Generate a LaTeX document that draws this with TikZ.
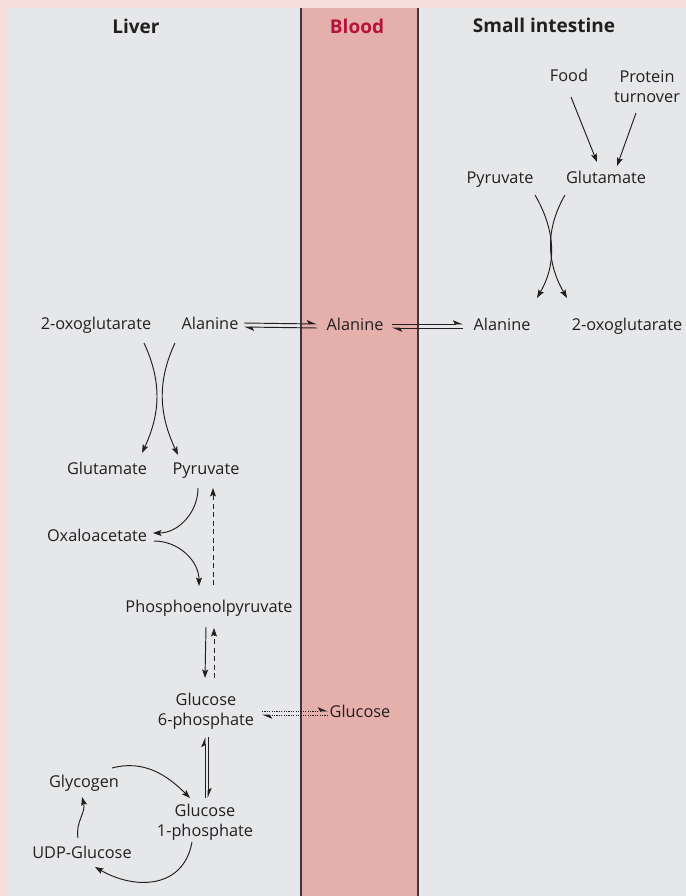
\documentclass[tikz,border=0pt]{standalone}
\usepackage{fontspec}
\setmainfont{Open Sans}
\usetikzlibrary{arrows.meta,calc}
\definecolor{mtMargin}{RGB}{246,221,217}
\definecolor{mtPanel}{RGB}{230,231,233}
\definecolor{mtBlood}{RGB}{229,175,172}
\definecolor{mtEdge}{RGB}{60,55,56}
\definecolor{mtRed}{RGB}{181,18,60}
\definecolor{mtInk}{RGB}{35,31,32}

\begin{document}
\begin{tikzpicture}[
    x=1bp, y=-1bp,
    >={Stealth[length=8.5bp,width=6bp,inset=1.8bp]},
    met node/.style={font=\fontsize{16.3bp}{20bp}\selectfont, text=mtInk, inner sep=0pt, text height=11.5bp, text depth=3.5bp},
    met pair/.style={font=\fontsize{16.3bp}{20bp}\selectfont, text=mtInk, inner sep=0pt, align=center},
    head node/.style={font=\fontsize{19bp}{22bp}\selectfont\bfseries, text=mtInk, inner sep=0pt},
    flux arrow/.style={draw=mtInk, line width=0.95bp, ->},
    harpoon/.style={draw=mtInk, line width=0.95bp, -{Stealth[left,length=9bp,width=7.5bp,inset=2bp]}},
    dash line/.style={dash pattern=on 5bp off 3.5bp},
    dot line/.style={dash pattern=on 1.2bp off 1.2bp}
]
  \useasboundingbox (0,0) rectangle (686,896);
  % panels
  \fill[mtMargin] (0,0) rectangle (686,896);
  \fill[mtPanel] (8,8) rectangle (686,896);
  \fill[mtBlood] (301,8) rectangle (418,896);
  \draw[mtEdge, line width=1.3bp] (301,8) -- (301,896) (418,8) -- (418,896);

  \node[head node] (liver) at (136,26) {Liver};
  \node[head node, text=mtRed] (blood) at (357,26) {Blood};
  \node[head node] (intestine) at (544,25) {Small intestine};

  % small intestine
  \node[met node] (food) at (569,77) {Food};
  \node[met pair] (prot) at (647,87) {Protein\\turnover};
  \node[met node] (pyrSI) at (500,179) {Pyruvate};
  \node[met node] (gluSI) at (606,179) {Glutamate};
  \node[met node] (alaSI) at (502,326) {Alanine};
  \node[met node] (oxoSI) at (627,326) {2-oxoglutarate};

  % blood
  \node[met node] (alaB) at (355,326) {Alanine};
  \node[met node] (glcB) at (360,713) {Glucose};

  % liver
  \node[met node] (oxoL) at (96,325) {2-oxoglutarate};
  \node[met node] (alaL) at (210,325) {Alanine};
  \node[met node] (gluL) at (107,470) {Glutamate};
  \node[met node] (pyrL) at (206,470) {Pyruvate};
  \node[met node] (oaa) at (97,537) {Oxaloacetate};
  \node[met node] (pep) at (209,608) {Phosphoenolpyruvate};
  \node[met pair] (g6p) at (206,711) {Glucose\\6-phosphate};
  \node[met node] (glycogen) at (84,783) {Glycogen};
  \node[met pair] (g1p) at (205,822) {Glucose\\1-phosphate};
  \node[met node] (udp) at (82,854) {UDP-Glucose};

  \draw[flux arrow] ($(food)+(2,20)$) -- ($(gluSI)+(-9,-17)$);
  \draw[flux arrow] ($(prot)+(-11,26)$) -- ($(gluSI)+(11,-13)$);
  \draw[flux arrow] ($(pyrSI)+(35,16)$) to[out=-60,in=60] ($(alaSI)+(35,-28)$);
  \draw[flux arrow] ($(gluSI)+(-41,16)$) to[out=-120,in=120] ($(oxoSI)+(-60,-28)$);

  \draw[harpoon] ($(alaL)+(34,-2)$) -- ($(alaB)+(-38,-2)$);
  \draw[harpoon] ($(alaB)+(-38,2)$) -- ($(alaL)+(34,2)$);
  \draw[harpoon] ($(alaB)+(37,-2)$) -- ($(alaSI)+(-39,-2)$);
  \draw[harpoon] ($(alaSI)+(-39,2)$) -- ($(alaB)+(37,2)$);

  \draw[flux arrow] ($(oxoL)+(48,18)$) to[out=-65,in=65] ($(gluL)+(35,-17)$);
  \draw[flux arrow] ($(alaL)+(-35,18)$) to[out=-115,in=115] ($(pyrL)+(-28,-15)$);

  \draw[flux arrow] ($(pyrL)+(-8,18)$) to[out=-90,in=0] ($(oaa)+(56,-4)$);
  \draw[flux arrow] ($(oaa)+(57,4)$) to[out=0,in=90] ($(pep)+(-10,-22)$);
  \draw[flux arrow, dash line] ($(pep)+(4,-23)$) -- ($(pyrL)+(7,18)$);
  \draw[flux arrow] ($(pep)+(-3,19)$) -- ($(g6p)+(-1,-33)$);
  \draw[flux arrow, dash line] ($(g6p)+(8,-33)$) -- ($(pep)+(5,20)$);

  \draw[harpoon] ($(g1p)+(0,-24)$) -- ($(g6p)+(-1,26)$);
  \draw[harpoon] ($(g6p)+(2,26)$) -- ($(g1p)+(3,-24)$);
  \draw[harpoon, dot line] ($(g6p)+(56,0)$) -- ($(glcB)+(-32,-2)$);
  \draw[harpoon, dot line] ($(glcB)+(-32,2)$) -- ($(g6p)+(56,4)$);

  % glycogen cycle
  \draw[flux arrow] ($(glycogen)+(28,-15)$) to[out=15,in=135] ($(g1p)+(-15,-24)$);
  \draw[flux arrow] ($(g1p)+(-13,20)$) to[out=-100,in=-30,looseness=1.2] ($(udp)+(13,13)$);
  \draw[flux arrow] ($(udp)+(-4,-16)$) to[out=100,in=-75] ($(glycogen)+(-2,14)$);
\end{tikzpicture}
\end{document}
